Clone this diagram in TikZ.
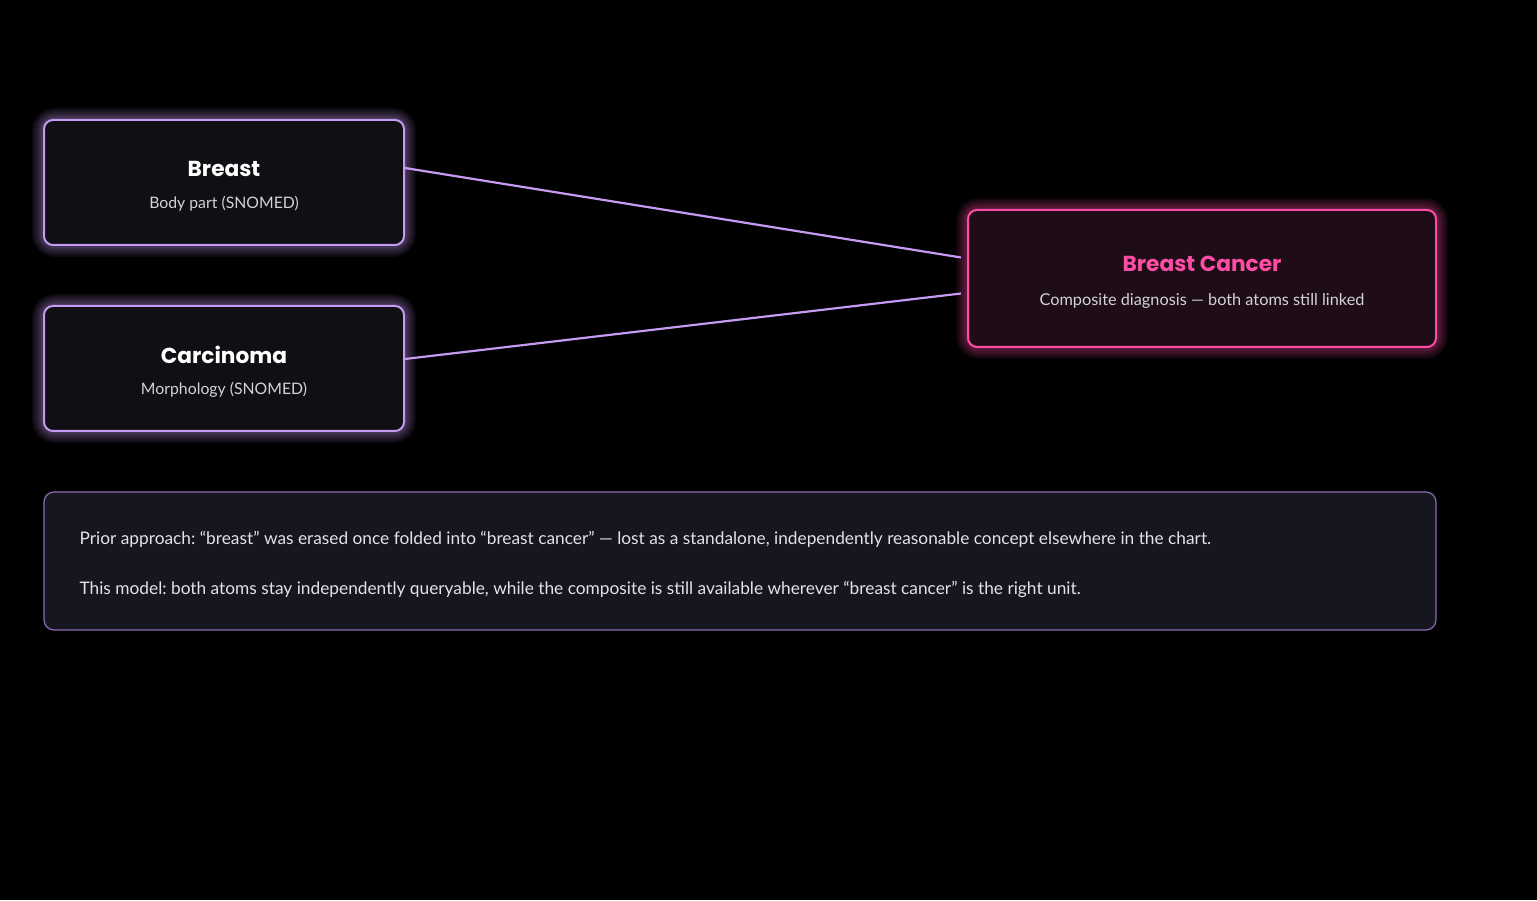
\documentclass[tikz,border=0pt]{standalone}
\usepackage{fontspec}
\setmainfont{Lato}
\newfontfamily\titlefont{Poppins}[UprightFont=* Bold]
\frenchspacing
\definecolor{bg}{HTML}{000000}
\definecolor{lav}{HTML}{C59AF2}
\definecolor{pinkc}{HTML}{FF4DA6}
\definecolor{atomfill}{HTML}{0F0F14}
\definecolor{compfill}{HTML}{1E0C17}
\definecolor{notefill}{HTML}{161620}
\definecolor{noteline}{HTML}{8C6BB5}
\definecolor{subtxt}{HTML}{D2D2DA}
\definecolor{notetxt}{HTML}{E2E2EA}
\tikzset{
  x=1pt,y=1pt,
  atombox/.style={draw=lav, line width=2pt, fill=atomfill, rounded corners=9pt, minimum width=360pt, minimum height=125pt, inner sep=0pt},
  compbox/.style={draw=pinkc, line width=2pt, fill=compfill, rounded corners=9pt, minimum width=468pt, minimum height=137pt, inner sep=0pt},
  notebox/.style={draw=noteline, line width=1.2pt, fill=notefill, rounded corners=10pt, minimum width=1392pt, minimum height=138pt, inner sep=0pt},
  titletxt/.style={font=\titlefont\fontsize{21.7}{26}\selectfont, text=white, inner sep=0pt},
  subtitletxt/.style={font=\fontsize{15.8}{19}\selectfont, text=subtxt, inner sep=0pt},
  notetxtst/.style={font=\fontsize{17.3}{21}\selectfont, text=notetxt, inner sep=0pt, anchor=west},
  link/.style={draw=lav, line width=2.2pt},
}
\newcommand{\glowbox}[2]{%
  \foreach \w in {22,18,14,10,7,4}{%
    \draw[#2, line width=\w pt, opacity=0.07, rounded corners=12pt] (#1.south west) rectangle (#1.north east);
  }%
}
\begin{document}
\begin{tikzpicture}
\fill[bg] (0,0) rectangle (1537,900);
\useasboundingbox (0,0) rectangle (1537,900);

% glows
\node[atombox, draw=none, fill=none] (gB) at (224,717.5) {};
\node[atombox, draw=none, fill=none] (gC) at (224,531.5) {};
\node[compbox, draw=none, fill=none] (gD) at (1202,621.5) {};
\glowbox{gB}{lav}
\glowbox{gC}{lav}
\glowbox{gD}{pinkc}

% boxes
\node[atombox] (breast) at (224,717.5) {};
\node[atombox] (carc) at (224,531.5) {};
\node[compbox] (bc) at (1202,621.5) {};
\node[notebox] (note) at (740,339) {};

% texts
\node[titletxt] (t1) at ([yshift=13.5pt]breast.center) {Breast};
\node[subtitletxt] (s1) at ([yshift=-21pt]breast.center) {Body part (SNOMED)};
\node[titletxt] (t2) at ([yshift=13.5pt]carc.center) {Carcinoma};
\node[subtitletxt] (s2) at ([yshift=-21pt]carc.center) {Morphology (SNOMED)};
\node[titletxt, text=pinkc] (t3) at ([yshift=15pt]bc.center) {Breast Cancer};
\node[subtitletxt, font=\fontsize{16.3}{19}\selectfont] (s3) at ([yshift=-22pt]bc.center) {Composite diagnosis — both atoms still linked};

\node[notetxtst] (n1) at ([xshift=36pt,yshift=22pt]note.west) {Prior approach: “breast” was erased once folded into “breast cancer” — lost as a standalone, independently reasonable concept elsewhere in the chart.};
\node[notetxtst] (n2) at ([xshift=36pt,yshift=-28pt]note.west) {This model: both atoms stay independently queryable, while the composite is still available wherever “breast cancer” is the right unit.};

% connectors
\path (bc.west) ++(-6pt,21pt) coordinate (e1);
\path (bc.west) ++(-6pt,-15pt) coordinate (e2);
\draw[link] ([yshift=14.5pt]breast.east) -- (e1);
\draw[link] ([yshift=9.5pt]carc.east) -- (e2);
\end{tikzpicture}
\end{document}
